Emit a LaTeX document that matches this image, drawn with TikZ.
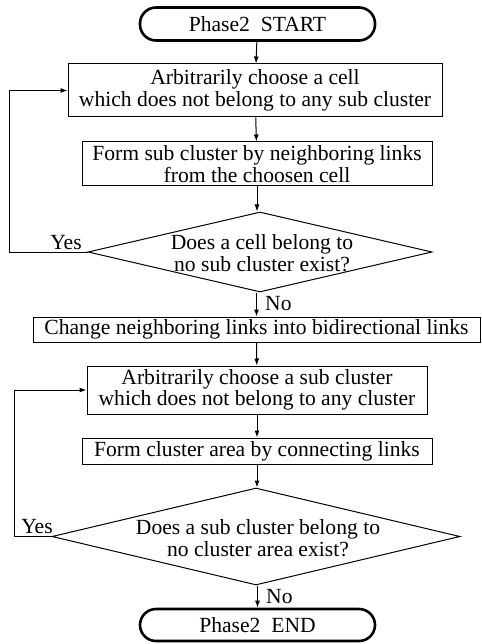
\documentclass[tikz,border=0pt]{standalone}
\usepackage{fontspec}
\setmainfont{Liberation Serif}
\usetikzlibrary{arrows.meta,shapes.geometric}
\begin{document}
\begin{tikzpicture}[x=1pt,y=-1pt,
  every node/.style={font=\fontsize{21.6}{21.5}\selectfont},
  term/.style={draw,line width=2.6pt,rounded corners=16pt,minimum width=235pt,inner sep=0pt,align=center},
  proc/.style={draw,line width=1pt,inner sep=0pt,align=center},
  dia/.style={draw,line width=1pt,diamond,inner sep=0pt},
  lbl/.style={inner sep=0pt},
  arr/.style={line width=1pt,-{Latex[length=7pt,width=5pt]}}]
\useasboundingbox (0,0) rectangle (481,644);
\node[term,minimum height=33pt] (start) at (257.5,24) {Phase2\ \ START};
\node[proc,minimum width=374pt,minimum height=53pt] (b1) at (255,90.5) {Arbitrarily choose a cell\\which does not belong to any sub cluster};
\node[proc,minimum width=350pt,minimum height=44pt] (b2) at (257,164) {Form sub cluster by neighboring links\\from the choosen cell};
\node[dia,minimum width=344pt,minimum height=80pt] (d1) at (260,252) {};
\node[lbl,align=center] (d1t) at (262,253) {Does a cell belong to\\no sub cluster exist?};
\node[proc,minimum width=447pt,minimum height=25pt] (b3) at (256.5,329.5) {Change neighboring links into bidirectional links};
\node[proc,minimum width=340pt,minimum height=48pt] (b4) at (257,390) {Arbitrarily choose a sub cluster\\which does not belong to any cluster};
\node[proc,minimum width=350pt,minimum height=26pt] (b5) at (257,451) {Form cluster area by connecting links};
\node[dia,minimum width=408pt,minimum height=97pt] (d2) at (256,536.5) {};
\node[lbl,align=center] (d2t) at (258,538) {Does a sub cluster belong to\\no cluster area exist?};
\node[term,minimum height=32pt] (end) at (257.5,625) {Phase2\ \ END};
\coordinate (l1a) at (9,252);
\coordinate (l2a) at (14,536.5);
\draw[arr] (start) -- (b1);
\draw[arr] (b1) -- (b2);
\draw[arr] (b2.south) -- (b2.south |- d1.north);
\draw[arr] (d1.south -| b3.north) -- (b3.north);
\draw[arr] (b3) -- (b4);
\draw[arr] (b4) -- (b5);
\draw[arr] (b5.south) -- (b5.south |- d2.north);
\draw[arr] (d2.south -| end.north) -- (end.north);
\draw[arr] (d1.west) -- (l1a) |- (b1.west);
\draw[arr] (d2.west) -- (l2a) |- (b4.west);
\node[lbl,anchor=south] (y1) at (66,250) {Yes};
\node[lbl,anchor=south] (y2) at (37,534) {Yes};
\node[lbl,anchor=west] (n1) at (265,304) {No};
\node[lbl,anchor=west] (n2) at (266,597) {No};
\end{tikzpicture}
\end{document}
